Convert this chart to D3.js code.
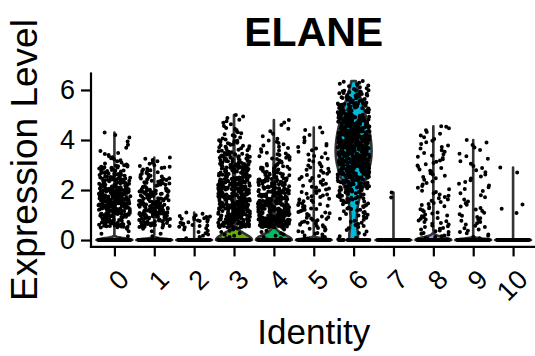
<!DOCTYPE html>
<html>
<head>
<meta charset="utf-8">
<script src="https://d3js.org/d3.v7.min.js"></script>
<style>
  body { margin: 0; background: #fff; }
  text { font-family: "Liberation Sans", Arial, sans-serif; fill: #000; }
</style>
</head>
<body>
<script>
// ELANE expression per cluster, Seurat VlnPlot look (violin + jittered cells)
var width = 535;
var height = 356;

var clusters = ["0", "1", "2", "3", "4", "5", "6", "7", "8", "9", "10"];
// ggplot hue palette for 11 groups
var colors = ["#F8766D", "#DB8E00", "#AEA200", "#64B200", "#00BD5C", "#00C1A7",
              "#00BADE", "#00A6FF", "#B385FF", "#EF67EB", "#FF63B6"];
// cells with zero expression per cluster (estimated, they form the bar at 0)
var zeroCounts = [9000, 8500, 7000, 1600, 1300, 6000, 40, 3000, 2600, 4000, 3500];
// highest value in each cluster (top of the violin)
var maxValues = [4.3, 3.3, 1.1, 5.0, 4.8, 4.5, 6.36, 1.9, 4.55, 4.0, 2.9];
// non-zero cells per 0.5 wide bin: [0,0.5), [0.5,1), [1,1.5) ...
var binCounts = [
  [5, 50, 90, 95, 60, 38, 12, 4, 3],
  [5, 45, 60, 45, 28, 18, 6],
  [10, 22, 2],
  [10, 80, 85, 80, 75, 60, 42, 25, 12, 8],
  [10, 85, 80, 65, 50, 32, 18, 10, 5, 3],
  [15, 20, 18, 15, 13, 12, 9, 8, 5],
  [8, 12, 18, 30, 55, 85, 100, 100, 90, 75, 55, 35, 10],
  [0, 0, 0, 2],
  [15, 15, 12, 10, 8, 10, 10, 8, 7, 2],
  [10, 10, 8, 6, 7, 6, 5, 5],
  [0, 0, 3, 0, 0, 2]
];
var binWidth = 0.5;
var yTicks = [0, 2, 4, 6];
var adjust = 1.25; // bandwidth multiplier, like geom_violin(adjust = )

// spread each bin's cells through the bin, the last bin ends at the max
function cellValues(i) {
  var vals = d3.range(zeroCounts[i]).map(function() { return 0; });
  var bins = binCounts[i];
  bins.forEach(function(c, b) {
    var lo = b * binWidth;
    var last = b === bins.length - 1;
    var hi = last ? maxValues[i] : lo + binWidth;
    for (var k = 0; k < c; k++) {
      vals.push(last ? lo + (hi - lo) * (k + 1) / c : lo + (hi - lo) * (k + 0.5) / c);
    }
  });
  return vals;
}

// R's bw.nrd0
function bwNrd0(x) {
  var s = x.slice().sort(d3.ascending);
  var sd = d3.deviation(s);
  var iqr = d3.quantileSorted(s, 0.75) - d3.quantileSorted(s, 0.25);
  var lo = Math.min(sd, iqr / 1.34);
  if (!lo) lo = sd || Math.abs(s[0]) || 1;
  return 0.9 * lo * Math.pow(s.length, -0.2);
}

function kde(vals, bw, grid) {
  var groups = d3.rollups(vals, function(v) { return v.length; }, function(d) { return d; });
  var n = vals.length;
  return grid.map(function(t) {
    var s = 0;
    groups.forEach(function(g) {
      var u = (t - g[0]) / bw;
      s += g[1] * Math.exp(-0.5 * u * u);
    });
    return s / (n * bw * Math.sqrt(2 * Math.PI));
  });
}

var svg = d3.select("body").append("svg")
  .attr("width", width)
  .attr("height", height);

var yMax = d3.max(maxValues);
var x = d3.scalePoint().domain(clusters).range([90.5, 537]).padding(0.6);
var y = d3.scaleLinear().domain([-0.04 * yMax, 1.05 * yMax]).range([246.4, 73]);
var step = x.step();

var rng = d3.randomUniform.source(d3.randomLcg(0.37))(-0.4, 0.4);
var r = 2;

clusters.forEach(function(cl, i) {
  var vals = cellValues(i);
  var cx = x(cl);
  var lo = d3.min(vals), hi = d3.max(vals);
  var grid = d3.range(512).map(function(k) { return lo + (hi - lo) * k / 511; });
  var dens = kde(vals, adjust * bwNrd0(vals), grid);
  var dMax = d3.max(dens);
  var half = 0.45 * step;
  var pts = grid.map(function(v, k) { return {v: v, w: dens[k] / dMax * half}; });

  var area = d3.area()
    .x0(function(d) { return cx - d.w; })
    .x1(function(d) { return cx + d.w; })
    .y(function(d) { return y(d.v); });

  svg.append("path")
    .attr("d", area(pts))
    .attr("fill", colors[i])
    .attr("stroke", "#333")
    .attr("stroke-width", 2.6)
    .attr("stroke-linejoin", "round");

  // jittered cells
  var d = vals.map(function(v) {
    var px = cx + rng() * step;
    var py = y(v);
    return "M" + (px - r).toFixed(2) + "," + py.toFixed(2) +
      "a" + r + "," + r + " 0 1,0 " + (2 * r) + ",0" +
      "a" + r + "," + r + " 0 1,0 " + (-2 * r) + ",0";
  }).join("");
  svg.append("path").attr("d", d).attr("fill", "#000");
});

// axes
var yAxis = svg.append("g")
  .attr("transform", "translate(90.5,0)")
  .call(d3.axisLeft(y).tickValues(yTicks).tickFormat(d3.format("d"))
    .tickSize(9.5).tickSizeOuter(0).tickPadding(6));
var xAxis = svg.append("g")
  .attr("transform", "translate(0,246.4)")
  .call(d3.axisBottom(x).tickSize(10).tickSizeOuter(0));

[yAxis, xAxis].forEach(function(g) {
  g.select(".domain").attr("stroke", "#000").attr("stroke-width", 2.2).attr("stroke-linecap", "square");
  g.selectAll(".tick line").attr("stroke", "#000").attr("stroke-width", 2.2);
  g.selectAll(".tick text").attr("font-size", 27).attr("fill", "#000")
    .style("font-family", "'Liberation Sans', Arial, sans-serif");
});

xAxis.selectAll(".tick text")
  .attr("y", 0)
  .attr("dy", "0.72em")
  .attr("text-anchor", "end")
  .attr("transform", "translate(2,21) rotate(-45)");

// titles
svg.append("text")
  .attr("x", 313.75)
  .attr("y", 46)
  .attr("text-anchor", "middle")
  .attr("font-size", 41)
  .attr("font-weight", "bold")
  .text("ELANE");

svg.append("text")
  .attr("x", 313.75)
  .attr("y", 344)
  .attr("text-anchor", "middle")
  .attr("font-size", 35)
  .text("Identity");

svg.append("text")
  .attr("transform", "translate(37,160) rotate(-90)")
  .attr("text-anchor", "middle")
  .attr("font-size", 37)
  .text("Expression Level");
</script>
</body>
</html>
